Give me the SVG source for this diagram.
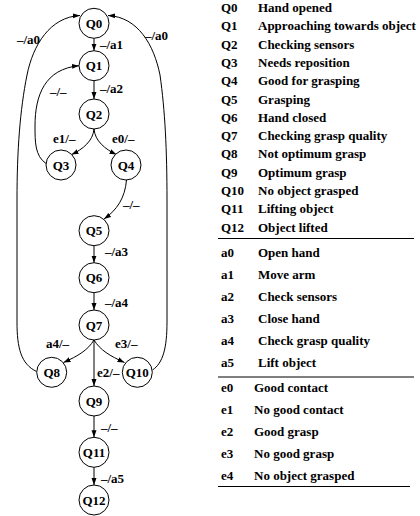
<svg xmlns="http://www.w3.org/2000/svg" width="420" height="516" viewBox="0 0 420 516">
  <style>
    text { font-family: "Liberation Serif", "Times New Roman", serif; font-weight: bold; font-size: 13px; fill: #000; }
    .node circle { fill: #fff; stroke: #000; stroke-width: 1; }
    .node text { text-anchor: middle; }
    .edge { fill: none; stroke: #000; stroke-width: 1; marker-end: url(#arrow); }
    .rule { stroke: #000; stroke-width: 1.2; }
  </style>
  <defs>
    <marker id="arrow" markerUnits="userSpaceOnUse" markerWidth="7" markerHeight="6" refX="7" refY="3" orient="auto">
      <path d="M0,0.5 L7,3 L0,5.5 z" fill="#000"/>
    </marker>
  </defs>
  <rect width="420" height="516" fill="#fff"/>

  <!-- transitions -->
  <g id="connectors">
    <path class="edge" d="M94,38.3 L94,50.7"/>
    <path class="edge" d="M94,80.7 L94,99"/>
    <path class="edge" d="M94,129 C93,141 83,149 71.6,154.6"/>
    <path class="edge" d="M94,129 C95,141 105,149 116.4,154.6"/>
    <path class="edge" d="M46,163.5 C35,156 35,142 35,126 C35,95 45,69 79,65.7"/>
    <path class="edge" d="M126.5,180 C125,198 117,210 104,219"/>
    <path class="edge" d="M94,245.7 L94,262.7"/>
    <path class="edge" d="M94,292.7 L94,310"/>
    <path class="edge" d="M94,340 C88,350 78,356 63.5,362.5"/>
    <path class="edge" d="M94,340 C100,350 110,356 124.5,362.5"/>
    <path class="edge" d="M94,340 L94,386"/>
    <path class="edge" d="M94,416 L94,437.3"/>
    <path class="edge" d="M94,467.3 L94,485"/>
    <path class="edge" d="M36.5,371.5 C21,364 17,348 17,322 L17,200 C17,150 20,110 27,75 C33,45 50,17 80,15.5"/>
    <path class="edge" d="M152.5,370 C163,363 167,348 167,322 L167,200 C167,150 165,110 160,75 C154,45 138,17 108,15.5"/>
  </g>

  <!-- transition labels -->
  <g id="edge-labels">
    <text x="100" y="49">–/a1</text>
    <text x="100" y="93">–/a2</text>
    <text x="17" y="44">–/a0</text>
    <text x="145" y="40">–/a0</text>
    <text x="50" y="96">–/–</text>
    <text x="53" y="143">e1/–</text>
    <text x="112" y="143">e0/–</text>
    <text x="123" y="209">–/–</text>
    <text x="105" y="256">–/a3</text>
    <text x="105" y="307">–/a4</text>
    <text x="46" y="348">a4/–</text>
    <text x="115" y="348">e3/–</text>
    <text x="97" y="377">e2/–</text>
    <text x="101" y="432">–/–</text>
    <text x="101" y="483">–/a5</text>
  </g>

  <!-- states -->
  <g id="Q0" class="node"><circle cx="94" cy="23.3" r="15"/><text x="94" y="28">Q0</text></g>
  <g id="Q1" class="node"><circle cx="94" cy="65.7" r="15"/><text x="94" y="70.4">Q1</text></g>
  <g id="Q2" class="node"><circle cx="94" cy="114" r="15"/><text x="94" y="118.7">Q2</text></g>
  <g id="Q3" class="node"><circle cx="61" cy="165" r="15"/><text x="61" y="169.7">Q3</text></g>
  <g id="Q4" class="node"><circle cx="126" cy="165" r="15"/><text x="126" y="169.7">Q4</text></g>
  <g id="Q5" class="node"><circle cx="94" cy="230.7" r="15"/><text x="94" y="235.4">Q5</text></g>
  <g id="Q6" class="node"><circle cx="94" cy="277.7" r="15"/><text x="94" y="282.4">Q6</text></g>
  <g id="Q7" class="node"><circle cx="94" cy="325" r="15"/><text x="94" y="329.7">Q7</text></g>
  <g id="Q8" class="node"><circle cx="51.7" cy="372.3" r="15"/><text x="51.7" y="377">Q8</text></g>
  <g id="Q10" class="node"><circle cx="137.3" cy="372.3" r="15"/><text x="137.3" y="377">Q10</text></g>
  <g id="Q9" class="node"><circle cx="94" cy="401" r="15"/><text x="94" y="405.7">Q9</text></g>
  <g id="Q11" class="node"><circle cx="94" cy="452.3" r="15"/><text x="94" y="457">Q11</text></g>
  <g id="Q12" class="node"><circle cx="94" cy="500" r="15"/><text x="94" y="504.7">Q12</text></g>

  <!-- legend: states -->
  <g id="legend-states">
    <text x="221" y="12">Q0</text><text x="258" y="12">Hand opened</text>
    <text x="221" y="30.3">Q1</text><text x="258" y="30.3">Approaching towards object</text>
    <text x="221" y="48.6">Q2</text><text x="258" y="48.6">Checking sensors</text>
    <text x="221" y="66.9">Q3</text><text x="258" y="66.9">Needs reposition</text>
    <text x="221" y="85.2">Q4</text><text x="258" y="85.2">Good for grasping</text>
    <text x="221" y="103.5">Q5</text><text x="258" y="103.5">Grasping</text>
    <text x="221" y="121.8">Q6</text><text x="258" y="121.8">Hand closed</text>
    <text x="221" y="140.1">Q7</text><text x="258" y="140.1">Checking grasp quality</text>
    <text x="221" y="158.4">Q8</text><text x="258" y="158.4">Not optimum grasp</text>
    <text x="221" y="176.7">Q9</text><text x="258" y="176.7">Optimum grasp</text>
    <text x="221" y="195">Q10</text><text x="258" y="195">No object grasped</text>
    <text x="221" y="213.3">Q11</text><text x="258" y="213.3">Lifting object</text>
    <text x="221" y="231.6">Q12</text><text x="258" y="231.6">Object lifted</text>
    <line class="rule" x1="218" y1="238.5" x2="414" y2="238.5"/>
  </g>

  <!-- legend: actions -->
  <g id="legend-actions">
    <text x="221" y="256.5">a0</text><text x="258" y="256.5">Open hand</text>
    <text x="221" y="278.5">a1</text><text x="258" y="278.5">Move arm</text>
    <text x="221" y="300.5">a2</text><text x="258" y="300.5">Check sensors</text>
    <text x="221" y="322.5">a3</text><text x="258" y="322.5">Close hand</text>
    <text x="221" y="344.5">a4</text><text x="258" y="344.5">Check grasp quality</text>
    <text x="221" y="366.5">a5</text><text x="258" y="366.5">Lift object</text>
    <line class="rule" x1="218" y1="377" x2="414" y2="377"/>
  </g>

  <!-- legend: events -->
  <g id="legend-events">
    <text x="221" y="391.5">e0</text><text x="254" y="391.5">Good contact</text>
    <text x="221" y="413.5">e1</text><text x="254" y="413.5">No good contact</text>
    <text x="221" y="435.5">e2</text><text x="254" y="435.5">Good grasp</text>
    <text x="221" y="457.5">e3</text><text x="254" y="457.5">No good grasp</text>
    <text x="221" y="479.5">e4</text><text x="254" y="479.5">No object grasped</text>
    <line class="rule" x1="218" y1="486.5" x2="410" y2="486.5"/>
  </g>
</svg>
